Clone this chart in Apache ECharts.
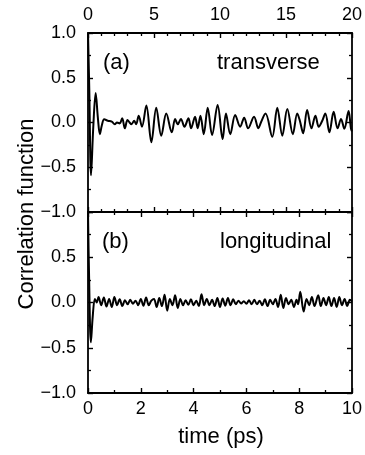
<!DOCTYPE html>
<html>
<head>
<meta charset="utf-8">
<script src="https://cdn.jsdelivr.net/npm/echarts@6/dist/echarts.min.js"></script>
<style>
html,body{margin:0;padding:0;background:#fff;}
#chart{width:365px;height:455px;}
</style>
</head>
<body>
<div id="chart"></div>
<script>
// Panel (a): transverse, time (ps) on top axis 0-20
var tTrans = [0, 0.1, 0.23, 0.4, 0.58, 0.75, 0.9, 1.05, 1.23, 1.5, 1.8, 2.03, 2.2, 2.4, 2.59, 2.79, 2.99, 3.15, 3.29, 3.5, 3.65, 3.84, 4.09, 4.42, 4.8, 5.17, 5.55, 5.93, 6.35, 6.6, 6.8, 7.04, 7.31, 7.61, 7.81, 8.11, 8.31, 8.52, 8.77, 9.07, 9.4, 9.82, 10.2, 10.45, 10.78, 11.15, 11.53, 11.83, 12.13, 12.58, 12.91, 13.1, 13.45, 13.96, 14.34, 14.72, 15.1, 15.52, 15.85, 16.05, 16.3, 16.6, 16.93, 17.23, 17.48, 17.75, 17.98, 18.29, 18.61, 18.91, 19.17, 19.42, 19.74, 19.92, 20];
var cTrans = [1.0, 0.35, -0.59, -0.05, 0.33, 0.05, -0.13, -0.03, 0.035, 0.02, 0.01, -0.02, 0.0, -0.01, 0.047, -0.065, 0.028, 0.0, -0.02, 0.02, -0.02, 0.076, -0.047, 0.19, -0.22, 0.165, -0.147, 0.10, -0.11, 0.04, -0.02, 0.04, -0.047, 0.047, -0.065, 0.065, -0.065, 0.076, -0.13, 0.165, -0.14, 0.196, -0.185, 0.10, -0.13, 0.084, -0.047, 0.054, -0.065, 0.065, -0.065, 0.0, 0.10, -0.16, 0.165, -0.147, 0.15, -0.13, 0.10, 0.02, -0.12, 0.14, -0.065, 0.076, -0.047, 0.02, 0.10, -0.11, 0.12, -0.065, 0.04, -0.07, 0.128, -0.065, -0.1];

// Panel (b): longitudinal, time (ps) on bottom axis 0-10
var tLong = [0, 0.04, 0.11, 0.18, 0.26, 0.33, 0.4, 0.5, 0.6, 0.7, 0.8, 0.9, 1.0, 1.1, 1.2, 1.3, 1.4, 1.5, 1.6, 1.7, 1.8, 1.9, 2.0, 2.1, 2.2, 2.3, 2.4, 2.5, 2.6, 2.7, 2.8, 2.9, 3.0, 3.1, 3.2, 3.3, 3.4, 3.5, 3.6, 3.7, 3.8, 3.9, 4.0, 4.1, 4.2, 4.3, 4.4, 4.5, 4.6, 4.7, 4.8, 4.9, 5.0, 5.1, 5.2, 5.3, 5.4, 5.5, 5.6, 5.7, 5.8, 5.9, 6.0, 6.1, 6.2, 6.3, 6.4, 6.5, 6.6, 6.7, 6.8, 6.9, 7.0, 7.1, 7.2, 7.3, 7.4, 7.5, 7.6, 7.7, 7.8, 7.9, 7.96, 8.04, 8.17, 8.28, 8.38, 8.48, 8.58, 8.72, 8.82, 8.92, 9.02, 9.12, 9.22, 9.32, 9.42, 9.52, 9.62, 9.72, 9.82, 9.92, 10.0];
var cLong = [1.0, 0.3, -0.44, -0.15, 0.04, 0.0, 0.06, -0.03, 0.055, -0.045, 0.04, -0.05, 0.06, -0.03, 0.035, -0.04, 0.025, -0.02, 0.03, -0.015, 0.02, -0.03, 0.04, -0.035, 0.055, -0.03, 0.02, 0.04, -0.05, 0.05, -0.04, 0.085, -0.09, 0.04, -0.03, 0.08, -0.06, 0.04, -0.03, 0.025, -0.025, 0.035, -0.03, 0.02, -0.04, 0.09, -0.03, 0.04, -0.03, 0.03, -0.04, 0.05, -0.05, 0.045, -0.035, 0.05, -0.03, 0.035, -0.02, 0.02, -0.01, 0.015, -0.015, 0.025, -0.02, 0.03, -0.02, 0.02, -0.03, 0.035, -0.04, 0.03, -0.02, 0.04, -0.05, 0.085, -0.06, 0.05, -0.02, 0.03, -0.05, 0.03, -0.02, 0.12, -0.1, 0.04, -0.03, 0.06, -0.04, 0.08, -0.04, 0.05, -0.03, 0.06, -0.04, 0.05, -0.05, 0.06, -0.03, 0.04, -0.04, 0.03, 0.01];

var yTicks = [-1.0, -0.5, 0.0, 0.5, 1.0];
var panelLabels = ['(a)', 'transverse', '(b)', 'longitudinal'];
var axisTitles = ['time (ps)', 'Correlation function'];

function zip(t, c) { return t.map(function (v, i) { return [v, c[i]]; }); }
function fmtY(v) { return (v < 0 ? '\u2212' : '') + Math.abs(v).toFixed(1); }

var FONT = '"Liberation Sans", Arial, Helvetica, sans-serif';
var lineAx = { show: true, onZero: false, lineStyle: { color: '#000', width: 1.8 } };

function xAx(grid, pos, max, interval, minorSplit, showLabel) {
  return {
    type: 'value', gridIndex: grid, position: pos, min: 0, max: max, interval: interval,
    axisLine: lineAx,
    axisTick: { show: true, inside: true, length: 5, lineStyle: { color: '#000', width: 1.4 } },
    minorTick: { show: true, splitNumber: minorSplit, length: 3, lineStyle: { color: '#000', width: 1.3 } },
    splitLine: { show: false }, minorSplitLine: { show: false },
    axisLabel: { show: showLabel, color: '#000', fontSize: 18, fontFamily: FONT, margin: pos === 'top' ? 9 : 7,
      showMinLabel: true, showMaxLabel: true, hideOverlap: false }
  };
}
function yAx(grid, pos, showLabel, hideMax) {
  return {
    type: 'value', gridIndex: grid, position: pos, min: yTicks[0], max: yTicks[yTicks.length - 1], interval: 0.5,
    axisLine: lineAx,
    axisTick: { show: true, inside: true, length: 5, lineStyle: { color: '#000', width: 1.4 } },
    minorTick: { show: true, splitNumber: 2, length: 3, lineStyle: { color: '#000', width: 1.3 } },
    splitLine: { show: false }, minorSplitLine: { show: false },
    axisLabel: { show: showLabel, color: '#000', fontSize: 18, fontFamily: FONT, margin: 12,
      showMinLabel: true, showMaxLabel: !hideMax, hideOverlap: false,
      formatter: function (v) { return (hideMax && v >= 1) ? '' : fmtY(v); } }
  };
}

var chart = echarts.init(document.getElementById('chart'), null, { renderer: 'canvas' });
chart.setOption({
  backgroundColor: '#fff',
  animation: false,
  grid: [
    { left: 88, top: 33, width: 266, height: 179 },
    { left: 88, top: 212, width: 266, height: 181 }
  ],
  xAxis: [
    xAx(0, 'top', 20, 5, 5, true),
    xAx(0, 'bottom', 20, 5, 5, false),
    xAx(1, 'bottom', 10, 2, 2, true),
    xAx(1, 'top', 10, 2, 2, false)
  ],
  yAxis: [
    yAx(0, 'left', true, false),
    yAx(0, 'right', false, false),
    yAx(1, 'left', true, true),
    yAx(1, 'right', false, false)
  ],
  series: [
    { type: 'line', xAxisIndex: 0, yAxisIndex: 0, data: zip(tTrans, cTrans), showSymbol: false, symbol: 'none',
      smooth: 0.35, lineStyle: { color: '#000', width: 2 } },
    { type: 'line', xAxisIndex: 2, yAxisIndex: 2, data: zip(tLong, cLong), showSymbol: false, symbol: 'none',
      smooth: 0.35, lineStyle: { color: '#000', width: 2 } }
  ],
  graphic: [
    { type: 'text', left: 103, top: 52, style: { text: panelLabels[0], font: '22px ' + FONT, fill: '#000' } },
    { type: 'text', left: 217, top: 52, style: { text: panelLabels[1], font: '22px ' + FONT, fill: '#000' } },
    { type: 'text', left: 102, top: 231, style: { text: panelLabels[2], font: '22px ' + FONT, fill: '#000' } },
    { type: 'text', left: 220, top: 231, style: { text: panelLabels[3], font: '22px ' + FONT, fill: '#000' } },
    { type: 'text', x: 221, y: 437, style: { text: axisTitles[0], font: '22px ' + FONT, fill: '#000', align: 'center', verticalAlign: 'middle' } },
    { type: 'text', x: 27, y: 214, rotation: Math.PI / 2, style: { text: axisTitles[1], font: '22px ' + FONT, fill: '#000', align: 'center', verticalAlign: 'middle' } }
  ]
});
</script>
</body>
</html>
